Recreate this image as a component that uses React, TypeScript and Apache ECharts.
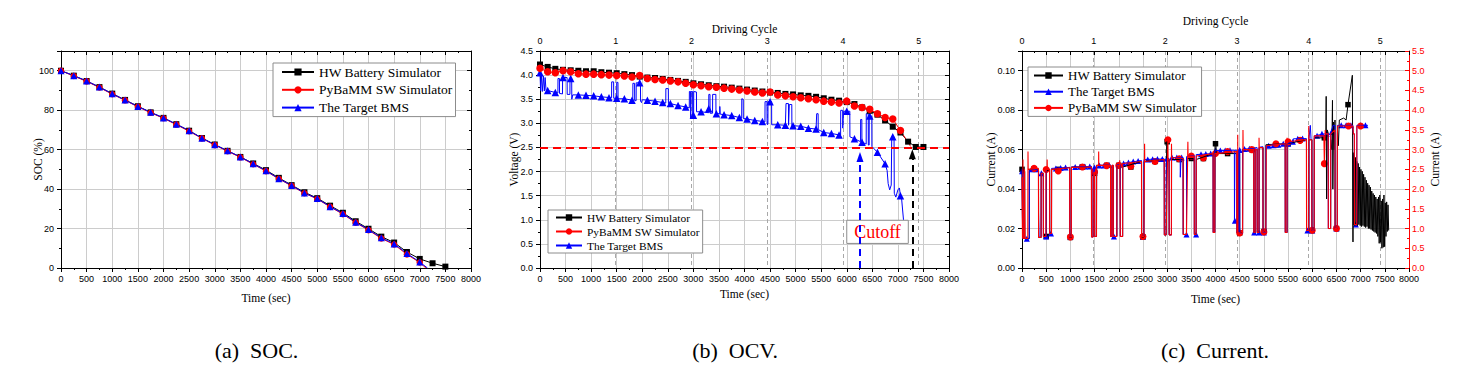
import React, { useEffect, useRef } from "react";
import * as echarts from "echarts";

// ---------- names ----------
const HW = "HW Battery Simulator";
const PY = "PyBaMM SW Simulator";
const BMS = "The Target BMS";

// ---------- tick labels / ranges ----------
const TIME_RANGE = [0, 8000, 500];
const CYCLE_MAX = 5.4;
const SOC_RANGE = [0, 110, 20];
const OCV_RANGE = [0, 4.5, 0.5];
const CUR_RANGE = [0, 0.11, 0.02];
const CUR_RIGHT_RANGE = [0, 5.5, 0.5];
const CAPTIONS = ["(a)  SOC.", "(b)  OCV.", "(c)  Current."];

// ---------- (a) SOC ----------
const socHW = [[0,100],[250,97.5],[500,94.8],[750,91.7],[1000,88.4],[1250,85.2],[1500,82],[1750,78.9],[2000,76.1],[2250,72.9],[2500,69.6],[2750,65.9],[3000,62.6],[3250,59.4],[3500,56.3],[3750,53],[4000,49.6],[4250,45.7],[4500,42],[4750,38.4],[5000,35.4],[5250,31.6],[5500,28],[5750,23.7],[6000,19.9],[6250,15.9],[6500,12.9],[6750,8.1],[7000,4.6],[7250,2.4],[7500,0.7]];
const socPy = [[0,100],[250,97.3],[500,94.6],[750,91.5],[1000,88.1],[1250,85],[1500,81.7],[1750,78.7],[2000,75.9],[2250,72.7],[2500,69.3],[2750,65.7],[3000,62.3],[3250,59.2],[3500,56.1],[3750,52.6],[4000,49.1],[4250,45.2],[4500,41.6],[4750,37.9],[5000,35],[5250,31],[5500,27.3],[5750,23],[6000,19.2],[6250,15],[6500,11.9],[6750,6.9],[7000,2.8],[7120,0]];
const socBms = [[0,100],[250,97.5],[500,94.8],[750,91.7],[1000,88.3],[1250,85.1],[1500,81.9],[1750,78.9],[2000,76.1],[2250,72.9],[2500,69.6],[2750,65.8],[3000,62.5],[3250,59.4],[3500,56.3],[3750,52.8],[4000,49.3],[4250,45.3],[4500,41.8],[4750,38],[5000,35.2],[5250,31.1],[5500,27.6],[5750,23.2],[6000,19.5],[6250,15.3],[6500,12.2],[6750,7.4],[7000,3],[7150,0]];

// ---------- (b) OCV ----------
const ocvHW = [[0,4.22],[150,4.17],[300,4.13],[450,4.11],[600,4.10],[750,4.09],[900,4.08],[1050,4.08],[1200,4.06],[1350,4.05],[1500,4.04],[1650,4.02],[1800,4.00],[1950,3.97],[2100,3.95],[2250,3.94],[2400,3.92],[2550,3.90],[2700,3.88],[2850,3.86],[3000,3.83],[3150,3.81],[3300,3.79],[3450,3.77],[3600,3.76],[3750,3.74],[3900,3.72],[4050,3.70],[4200,3.68],[4350,3.66],[4500,3.64],[4650,3.63],[4800,3.61],[4950,3.60],[5100,3.58],[5250,3.57],[5400,3.55],[5550,3.52],[5700,3.49],[5850,3.47],[6000,3.44],[6150,3.40],[6300,3.33],[6450,3.26],[6600,3.18],[6750,3.06],[6900,2.93],[7050,2.81],[7200,2.62],[7350,2.51],[7500,2.51]];
const ocvPy = [[0,4.14],[150,4.07],[300,4.05],[450,4.09],[600,4.07],[750,4.03],[900,4.02],[1050,4.02],[1200,4.01],[1350,4.00],[1500,3.99],[1650,3.98],[1800,3.96],[1950,3.99],[2100,3.93],[2250,3.91],[2400,3.90],[2550,3.88],[2700,3.86],[2850,3.83],[3000,3.80],[3150,3.78],[3300,3.76],[3450,3.75],[3600,3.73],[3750,3.71],[3900,3.69],[4050,3.67],[4200,3.65],[4350,3.63],[4500,3.65],[4650,3.59],[4800,3.57],[4950,3.55],[5100,3.53],[5250,3.51],[5400,3.49],[5550,3.46],[5700,3.44],[5850,3.42],[6000,3.46],[6150,3.36],[6300,3.33],[6450,3.29],[6600,3.20],[6750,3.12],[6900,3.09],[7050,2.85],[7250,2.52]];
const ocvBmsLine = [[0,4.05],[12,3.68],[25,4.03],[45,3.66],[65,3.98],[85,3.67],[100,3.95],[118,3.68],[150,3.68],
  [300,3.64],[350,3.63],[352,3.93],[380,3.93],[382,3.62],[440,3.61],[442,3.95],[530,3.95],[532,3.60],[585,3.60],[587,3.93],[620,3.92],[622,3.50],[640,3.59],
  [750,3.59],[900,3.58],[1050,3.57],[1200,3.55],[1400,3.53],[1402,3.86],[1440,3.86],[1442,3.52],[1500,3.52],[1502,3.85],[1525,3.85],[1527,3.51],
  [1650,3.51],[1800,3.48],[1815,3.48],[1817,3.83],[1850,3.83],[1852,3.47],[1880,3.47],[1882,3.84],[1965,3.84],[1967,3.46],[1985,3.43],[2000,3.49],
  [2100,3.48],[2250,3.46],[2400,3.43],[2460,3.42],[2462,3.72],[2510,3.72],[2512,3.41],[2550,3.41],[2700,3.37],[2850,3.34],
  [2920,3.32],[2922,3.66],[2945,3.66],[2947,3.10],[2955,3.10],[2957,3.66],[2985,3.66],[2987,3.17],[3005,3.17],[3007,3.66],[3060,3.65],[3062,3.24],
  [3150,3.24],[3298,3.22],[3300,3.30],[3302,3.60],[3325,3.60],[3327,3.21],[3375,3.21],[3377,3.60],[3440,3.60],[3442,3.20],[3515,3.20],[3517,3.35],[3525,3.19],
  [3600,3.18],[3750,3.16],[3900,3.12],[3945,3.11],[3947,3.51],[3975,3.50],[3977,3.10],[4050,3.09],[4200,3.06],[4350,3.04],
  [4400,3.03],[4402,3.45],[4440,3.45],[4442,2.98],[4458,2.98],[4460,3.45],[4530,3.45],[4532,2.97],
  [4650,2.97],[4800,2.96],[4810,2.96],[4812,3.41],[4860,3.41],[4862,2.96],[4875,2.96],[4877,3.39],[4925,3.39],[4927,2.95],
  [4950,2.95],[5100,2.94],[5250,2.90],[5400,2.88],[5410,2.88],[5412,3.20],[5440,3.20],[5442,2.87],[5550,2.81],[5700,2.79],[5850,2.76],
  [5880,2.76],[5882,3.27],[5920,3.27],[5922,2.90],[5935,2.90],[5937,3.25],[6060,3.25],[6062,2.72],
  [6150,2.68],[6270,2.62],[6272,3.08],[6295,3.08],[6297,2.61],[6380,2.57],[6382,3.20],[6420,3.20],[6422,2.55],[6438,2.55],[6440,3.15],[6490,3.15],[6492,2.52],
  [6600,2.40],[6750,2.16],[6790,2.02],[6810,1.75],[6840,1.62],[6870,1.72],[6878,1.72],[6880,2.72],[6925,2.72],[6930,1.55],[6960,1.47],[7000,1.62],[7030,1.66],[7050,1.50],[7070,1.47],[7110,1.00]];
const ocvBmsMarks = [[0,4.05],[150,3.68],[300,3.64],[450,3.95],[600,3.93],[750,3.59],[900,3.58],[1050,3.57],[1200,3.55],[1350,3.53],[1500,3.52],[1650,3.51],[1800,3.48],[1950,3.84],[2100,3.48],[2250,3.46],[2400,3.43],[2550,3.41],[2700,3.37],[2850,3.34],[3000,3.17],[3150,3.24],[3300,3.30],[3450,3.20],[3600,3.18],[3750,3.16],[3900,3.12],[4050,3.09],[4200,3.06],[4350,3.04],[4500,3.45],[4650,2.97],[4800,2.96],[4950,2.95],[5100,2.94],[5250,2.90],[5400,2.88],[5550,2.81],[5700,2.79],[5850,2.76],[6000,3.25],[6150,2.68],[6300,2.61],[6450,3.15],[6600,2.40],[6750,2.16],[6900,2.72],[7050,1.50]];
const CUTOFF_V = 2.5;
const bmsCutArrow = [[6259, 0], [6259, 2.30]];
const hwCutArrow = [[7283, 0], [7283, 2.36]];
const cutoffBox = [[6000, 0.51], [7204, 0.99]];

// ---------- (c) Current ----------
const curHWLine = [[0,0.050],[12,0.050],[14,0.015],[40,0.015],[42,0.049],[57,0.049],[59,0.015],[150,0.015],[152,0.050],[342,0.050],[344,0.0155],[395,0.0155],[397,0.048],[442,0.048],[444,0.016],[500,0.016],[502,0.049],[572,0.050],[574,0.0175],[610,0.0175],[612,0.050],
  [987,0.051],[989,0.0155],[1020,0.0155],[1022,0.0512],[1437,0.0512],[1439,0.0158],[1470,0.0158],[1472,0.048],[1502,0.048],[1504,0.016],[1540,0.016],[1542,0.052],[1832,0.052],[1834,0.016],[1860,0.016],[1862,0.052],[1887,0.052],[1889,0.016],[1960,0.016],[1962,0.052],[2032,0.052],[2034,0.016],[2080,0.016],[2082,0.0512],
  [2472,0.054],[2474,0.0157],[2520,0.0157],[2522,0.054],[2942,0.055],[2944,0.0168],[2980,0.0168],[2990,0.064],[3005,0.064],[3010,0.055],[3042,0.055],[3044,0.0168],[3090,0.0168],[3092,0.055],[3332,0.055],[3334,0.017],[3400,0.017],[3402,0.0555],[3562,0.0555],[3564,0.017],[3600,0.017],[3602,0.055],
  [3952,0.058],[3954,0.018],[3985,0.018],[3990,0.063],[4010,0.063],[4015,0.058],[4442,0.058],[4444,0.018],[4470,0.018],[4472,0.058],[4500,0.058],[4502,0.0178],[4560,0.0178],[4562,0.060],[4792,0.060],[4794,0.018],[4820,0.018],[4822,0.060],[4862,0.060],[4864,0.018],[4900,0.018],[4902,0.061],[4982,0.061],[4984,0.0185],[5040,0.0185],[5042,0.0625],
  [5442,0.063],[5444,0.018],[5480,0.018],[5482,0.063],[5882,0.065],[5884,0.019],[5930,0.019],[5932,0.065],[5992,0.065],[5994,0.019],[6040,0.019],[6042,0.066],[6280,0.066],[6288,0.087],[6296,0.035],[6310,0.070],[6334,0.068],[6336,0.020],[6380,0.020],[6382,0.065],[6405,0.060],[6418,0.085],[6426,0.040],[6440,0.074],[6455,0.060],[6470,0.075],[6474,0.020],[6520,0.020],[6522,0.070],[6540,0.062],[6560,0.075],[6650,0.076],[6700,0.075],[6739,0.0828],[6829,0.0977],
  [6842,0.0132],[6845,0.0585],[6852,0.022],[6866,0.0575],[6880,0.0215],[6894,0.056],[6908,0.022],[6922,0.054],[6936,0.0215],[6950,0.053],[6964,0.022],[6978,0.0512],[6992,0.0215],[7006,0.050],[7020,0.021],[7034,0.049],[7048,0.0215],[7062,0.0475],[7076,0.021],[7090,0.046],[7104,0.0205],[7118,0.0445],[7132,0.021],[7146,0.043],[7160,0.020],[7174,0.042],[7188,0.020],[7202,0.041],[7216,0.0195],[7230,0.039],[7244,0.019],[7258,0.0378],[7272,0.0185],[7286,0.037],[7300,0.018],[7314,0.036],[7328,0.0175],[7342,0.035],[7356,0.016],[7370,0.036],[7384,0.0125],[7398,0.037],[7412,0.013],[7426,0.034],[7440,0.010],[7454,0.035],[7468,0.0105],[7482,0.037],[7496,0.0108],[7510,0.033],[7524,0.016],[7538,0.0335],[7552,0.0185],[7566,0.032],[7580,0.019]];
const curHWMarks = [[0,0.050],[250,0.050],[500,0.016],[750,0.050],[1000,0.0155],[1250,0.0512],[1500,0.048],[1750,0.052],[2000,0.052],[2250,0.0512],[2500,0.0157],[2750,0.054],[3000,0.064],[3250,0.055],[3500,0.0555],[3750,0.0555],[4000,0.063],[4250,0.058],[4500,0.0178],[4750,0.060],[5000,0.0185],[5250,0.0625],[5500,0.063],[5750,0.065],[6000,0.019],[6250,0.066],[6500,0.020],[6739,0.0828]];
const curBmsLine = [[0,0.049],[10,0.049],[12,0.015],[40,0.015],[42,0.048],[55,0.048],[57,0.0148],[150,0.0148],[152,0.0495],[330,0.0502],[340,0.0495],[342,0.028],[350,0.028],[352,0.0155],[395,0.0155],[397,0.048],[440,0.048],[442,0.016],[500,0.016],[502,0.050],[570,0.050],[572,0.0175],[610,0.0175],[612,0.0505],
  [985,0.051],[987,0.0158],[1020,0.0158],[1022,0.0512],[1435,0.0515],[1437,0.0158],[1470,0.0158],[1472,0.051],[1500,0.051],[1502,0.016],[1540,0.016],[1542,0.052],[1830,0.0522],[1832,0.016],[1860,0.016],[1862,0.052],[1885,0.052],[1887,0.016],[1960,0.016],[1962,0.0523],[2030,0.0525],[2032,0.016],[2080,0.016],[2082,0.053],
  [2470,0.0545],[2472,0.016],[2520,0.016],[2522,0.055],[2940,0.0553],[2942,0.0168],[2980,0.0168],[2982,0.0553],[3040,0.0555],[3042,0.0168],[3090,0.0168],[3092,0.056],[3270,0.056],[3272,0.046],[3285,0.046],[3287,0.056],[3330,0.056],[3332,0.017],[3400,0.017],[3402,0.0565],[3560,0.057],[3562,0.017],[3600,0.017],[3602,0.0575],
  [3950,0.058],[3952,0.018],[3985,0.018],[3987,0.0595],[4390,0.0597],[4392,0.024],[4400,0.024],[4402,0.0597],[4440,0.0597],[4442,0.018],[4470,0.018],[4472,0.0598],[4500,0.0598],[4502,0.0175],[4560,0.0175],[4562,0.0603],[4790,0.0605],[4792,0.018],[4820,0.018],[4822,0.061],[4860,0.061],[4862,0.018],[4900,0.018],[4902,0.0612],[4980,0.0615],[4982,0.018],[5040,0.018],[5042,0.062],
  [5440,0.063],[5442,0.018],[5480,0.018],[5482,0.063],[5600,0.064],[5610,0.0655],[5880,0.0656],[5882,0.019],[5930,0.019],[5932,0.0655],[5960,0.0723],[5975,0.0655],[5990,0.065],[5992,0.019],[6040,0.019],[6042,0.067],[6250,0.068],[6330,0.068],[6332,0.020],[6380,0.020],[6382,0.0685],[6430,0.0723],[6470,0.0723],[6472,0.020],[6520,0.020],[6522,0.0723],[6840,0.0723],[6850,0.068],[6870,0.068],[6872,0.022],[6920,0.022],[6922,0.0723],[7150,0.0723]];
const curBmsMarks = [[0,0.049],[100,0.0148],[200,0.050],[300,0.050],[400,0.048],[500,0.016],[600,0.0175],[700,0.0505],[800,0.0507],[900,0.051],[1000,0.0158],[1100,0.0512],[1200,0.0513],[1300,0.0514],[1400,0.0515],[1500,0.051],[1600,0.052],[1700,0.052],[1800,0.0522],[1900,0.016],[2000,0.0523],[2100,0.053],[2200,0.0535],[2300,0.054],[2400,0.0543],[2500,0.016],[2600,0.055],[2700,0.0551],[2800,0.0552],[2900,0.0553],[3000,0.0555],[3100,0.056],[3200,0.056],[3300,0.056],[3400,0.017],[3500,0.0567],[3600,0.017],[3700,0.0577],[3800,0.0578],[3900,0.058],[4000,0.0595],[4100,0.0596],[4200,0.0596],[4300,0.0597],[4400,0.024],[4500,0.0598],[4600,0.0603],[4700,0.0604],[4800,0.018],[4900,0.018],[5000,0.018],[5100,0.062],[5200,0.0622],[5300,0.0625],[5400,0.063],[5500,0.063],[5600,0.064],[5700,0.0655],[5800,0.0656],[5900,0.019],[6000,0.019],[6100,0.067],[6200,0.068],[6300,0.068],[6400,0.069],[6500,0.020],[6600,0.0723],[6700,0.0723],[6800,0.0723],[6900,0.022],[7000,0.0723],[7100,0.0723]];
const curPyLine = [[0,0.046],[8,0.046],[10,0.015],[18,0.015],[20,0.055],[24,0.015],[50,0.015],[52,0.050],[60,0.050],[62,0.015],[120,0.015],[124,0.059],[128,0.050],[340,0.0505],[342,0.0155],[395,0.0155],[397,0.048],[440,0.048],[442,0.016],[495,0.016],[497,0.050],[518,0.050],[520,0.055],[524,0.050],[570,0.050],[572,0.0175],[610,0.0175],[612,0.050],
  [985,0.0508],[987,0.0157],[1020,0.0157],[1022,0.051],[1435,0.0512],[1437,0.0157],[1470,0.0157],[1472,0.048],[1500,0.0487],[1502,0.016],[1540,0.016],[1542,0.052],[1583,0.052],[1585,0.059],[1588,0.052],[1830,0.052],[1832,0.016],[1860,0.016],[1862,0.052],[1885,0.052],[1887,0.016],[1960,0.016],[1962,0.052],[2018,0.052],[2020,0.0546],[2024,0.052],[2030,0.052],[2032,0.016],[2080,0.016],[2082,0.053],
  [2470,0.054],[2472,0.016],[2520,0.016],[2534,0.063],[2538,0.054],[2940,0.055],[2942,0.0168],[2980,0.0168],[3016,0.065],[3020,0.055],[3040,0.055],[3042,0.0168],[3088,0.0168],[3090,0.063],[3094,0.056],[3330,0.0555],[3332,0.017],[3400,0.017],[3429,0.064],[3433,0.0565],[3560,0.0568],[3562,0.017],[3600,0.017],[3602,0.0568],
  [3950,0.058],[3952,0.018],[3985,0.018],[3987,0.058],[4440,0.059],[4442,0.018],[4458,0.018],[4460,0.0675],[4464,0.018],[4500,0.0177],[4560,0.0177],[4568,0.070],[4572,0.060],[4790,0.060],[4792,0.018],[4820,0.018],[4822,0.060],[4860,0.060],[4862,0.018],[4898,0.018],[4900,0.066],[4904,0.061],[4980,0.061],[4982,0.0183],[5040,0.0183],[5048,0.0606],[5052,0.062],
  [5440,0.063],[5442,0.018],[5478,0.018],[5480,0.066],[5484,0.064],[5880,0.065],[5882,0.019],[5926,0.019],[5928,0.072],[5932,0.065],[5990,0.065],[5992,0.0191],[6040,0.0191],[6042,0.067],[6240,0.067],[6250,0.0529],[6262,0.0529],[6268,0.070],[6272,0.068],[6330,0.068],[6332,0.020],[6380,0.020],[6382,0.068],[6470,0.070],[6472,0.020],[6518,0.020],[6520,0.068],[6526,0.072],[6840,0.072],[6850,0.068],[6870,0.068],[6872,0.022],[6920,0.022],[6922,0.072],[7050,0.072]];
const curPyMarks = [[250,0.0505],[500,0.0499],[750,0.0492],[1000,0.0157],[1250,0.0512],[1500,0.0487],[1750,0.0519],[2000,0.052],[2250,0.0516],[2500,0.016],[2750,0.054],[3016,0.065],[3250,0.0554],[3500,0.0568],[3750,0.0558],[4000,0.058],[4250,0.059],[4500,0.0177],[4750,0.060],[5000,0.0183],[5250,0.063],[5500,0.064],[5750,0.0647],[6000,0.0191],[6250,0.0529],[6500,0.020],[6750,0.072],[7000,0.072]];

// ---------- style ----------
const SERIF = "'Liberation Serif', 'Times New Roman', serif";
const SANS = "'Liberation Sans', Arial, sans-serif";
const BLACK = "#000000";
const RED = "#ff0000";
const BLUE = "#0000ff";
const GRIDC = "#cccccc";

const nameStyle = { fontFamily: SERIF, fontSize: 11.5, color: "#000" };
const labelStyle = { fontFamily: SANS, fontSize: 9, color: "#000" };

function timeAxis(grid: number, mirror: boolean, nameGap: number) {
  return {
    type: "value", gridIndex: grid, position: mirror ? "top" : "bottom",
    min: TIME_RANGE[0], max: TIME_RANGE[1], interval: TIME_RANGE[2],
    axisLine: { show: true, onZero: false, lineStyle: { color: BLACK, width: 1 } },
    axisTick: { show: true, inside: mirror, length: 4, lineStyle: { color: BLACK } },
    minorTick: { show: true, splitNumber: 2, length: 2, lineStyle: { color: BLACK } },
    axisLabel: { show: !mirror, interval: 0, margin: 6, ...labelStyle, formatter: (v: number) => String(Math.round(v)) },
    splitLine: { show: !mirror, lineStyle: { color: GRIDC, width: 1 } },
    minorSplitLine: { show: false },
    name: mirror ? "" : "Time (sec)", nameLocation: "middle", nameGap,
    nameTextStyle: nameStyle, nameMoveOverlap: false,
  };
}
function cycleAxis(grid: number, nameGap: number) {
  return {
    type: "value", gridIndex: grid, position: "top",
    min: 0, max: CYCLE_MAX, interval: 1,
    axisLine: { show: true, onZero: false, lineStyle: { color: BLACK, width: 1 } },
    axisTick: { show: false }, minorTick: { show: false },
    axisLabel: { show: true, showMaxLabel: false, margin: 6, ...labelStyle, formatter: (v: number) => String(Math.round(v)) },
    splitLine: { show: true, lineStyle: { color: "#a8a8a8", width: 1, type: [4, 3] } },
    name: "Driving Cycle", nameLocation: "middle", nameGap,
    nameTextStyle: nameStyle, nameMoveOverlap: false,
  };
}
function valueAxis(grid: number, range: number[], digits: number, name: string, nameGap: number, right: boolean, color = BLACK, labelColor = "#000", showLabel = true, showSplit = true) {
  return {
    type: "value", gridIndex: grid, position: right ? "right" : "left",
    min: range[0], max: range[1], interval: range[2],
    axisLine: { show: true, onZero: false, lineStyle: { color, width: 1 } },
    axisTick: { show: true, inside: right, length: 4, lineStyle: { color } },
    minorTick: { show: true, splitNumber: 2, length: 2, lineStyle: { color } },
    axisLabel: {
      show: showLabel, showMaxLabel: Math.abs((range[1] / range[2]) - Math.round(range[1] / range[2])) < 1e-6,
      margin: right ? 3 : 7, ...labelStyle, color: labelColor,
      formatter: (v: number) => v.toFixed(digits),
    },
    splitLine: { show: showSplit, lineStyle: { color: GRIDC, width: 1 } },
    minorSplitLine: { show: false },
    name, nameLocation: "middle", nameGap, nameRotate: 90,
    nameTextStyle: nameStyle, nameMoveOverlap: false,
  };
}
function legendCfg(left: number, top: number, data: string[], fontSize: number, itemWidth: number, itemHeight: number, itemGap: number, padding: number[]) {
  return {
    show: true, orient: "vertical", left, top, data, itemWidth, itemHeight, itemGap, padding,
    backgroundColor: "#ffffff", borderColor: "#8c8c8c", borderWidth: 1, borderRadius: 0,
    selectedMode: false, textStyle: { fontFamily: SERIF, fontSize, color: "#000" },
  };
}
function bareLastPoint(data: number[][]) {
  return data.map((d, i) => (i === data.length - 1 ? { value: d, symbol: "none" } : d));
}
function lineSeries(name: string, x: number, y: number, data: any[], color: string, symbol: string, size: number, show: boolean, width = 1) {
  return {
    type: "line", name, xAxisIndex: x, yAxisIndex: y, data, symbol, symbolSize: size,
    showSymbol: show, showAllSymbol: true, lineStyle: { color, width }, itemStyle: { color },
    emphasis: { disabled: true }, silent: true, clip: true,
  };
}
function markSeries(name: string, x: number, y: number, data: number[][], color: string, symbol: string, size: number) {
  return {
    type: "scatter", name, xAxisIndex: x, yAxisIndex: y, data, symbol, symbolSize: size,
    itemStyle: { color, opacity: 1 }, emphasis: { disabled: true }, silent: true,
  };
}

const option: any = {
  animation: false,
  backgroundColor: "#ffffff",
  grid: [
    { left: 61, top: 51, width: 410, height: 217, outerBoundsMode: "none", containLabel: false },
    { left: 540, top: 51, width: 409, height: 217, outerBoundsMode: "none", containLabel: false },
    { left: 1022, top: 51, width: 387, height: 217, outerBoundsMode: "none", containLabel: false },
  ],
  xAxis: [
    timeAxis(0, false, 24), timeAxis(0, true, 0),
    timeAxis(1, false, 20), timeAxis(1, true, 0), cycleAxis(1, 16),
    timeAxis(2, false, 25), timeAxis(2, true, 0), cycleAxis(2, 24),
  ],
  yAxis: [
    valueAxis(0, SOC_RANGE, 0, "SOC (%)", 17, false),
    valueAxis(0, SOC_RANGE, 0, "", 0, true, BLACK, "#000", false, false),
    valueAxis(1, OCV_RANGE, 1, "Voltage (V)", 20, false),
    valueAxis(1, OCV_RANGE, 1, "", 0, true, BLACK, "#000", false, false),
    valueAxis(2, CUR_RANGE, 2, "Current (A)", 25, false),
    valueAxis(2, CUR_RIGHT_RANGE, 1, "Current (A)", 20, true, RED, RED, true, false),
  ],
  legend: [
    legendCfg(273, 63, [HW, PY, BMS], 13.5, 32, 9, 3.8, [2, 3, 2, 8]),
    legendCfg(548, 210, [HW, PY, BMS], 11.4, 26, 8, 3, [2, 3, 2, 7]),
    legendCfg(1028, 67, [HW, BMS, PY], 13, 29, 8, 3.2, [2, 5, 2, 5]),
  ],
  series: [
    // (a)
    lineSeries(HW, 0, 0, socHW, BLACK, "rect", 6, true),
    lineSeries(PY, 0, 0, bareLastPoint(socPy), RED, "circle", 6.5, true),
    lineSeries(BMS, 0, 0, bareLastPoint(socBms), BLUE, "triangle", 7, true),
    // (b)
    lineSeries(HW, 2, 2, ocvHW, BLACK, "rect", 6, true),
    lineSeries(PY, 2, 2, bareLastPoint(ocvPy), RED, "circle", 7.5, true),
    lineSeries(BMS, 2, 2, ocvBmsLine, BLUE, "triangle", 8, false),
    markSeries(BMS, 2, 2, ocvBmsMarks, BLUE, "triangle", 7.5),
    {
      type: "line", name: "cutoff-lines", xAxisIndex: 2, yAxisIndex: 2, data: [], silent: true, z: 3,
      markLine: {
        silent: true, symbol: ["none", "none"], label: { show: false }, emphasis: { disabled: true },
        data: [
          { yAxis: CUTOFF_V, lineStyle: { color: RED, width: 2, type: [8, 5] } },
          [
            { coord: bmsCutArrow[0], symbol: "none", lineStyle: { color: BLUE, width: 2, type: [7, 5] } },
            { coord: bmsCutArrow[1], symbol: "triangle", symbolSize: [7, 10] },
          ],
          [
            { coord: hwCutArrow[0], symbol: "none", lineStyle: { color: BLACK, width: 2, type: [7, 5] } },
            { coord: hwCutArrow[1], symbol: "triangle", symbolSize: [7, 10] },
          ],
        ],
      },
    },
    {
      type: "line", name: "cutoff-box", xAxisIndex: 2, yAxisIndex: 2, data: [], silent: true, z: 6,
      markArea: {
        silent: true, emphasis: { disabled: true },
        itemStyle: { color: "#ffffff", borderColor: "#8c8c8c", borderWidth: 1, opacity: 1 },
        label: { show: true, position: "inside", color: RED, fontFamily: SERIF, fontSize: 18 },
        data: [[{ name: "Cutoff", coord: cutoffBox[0] }, { coord: cutoffBox[1] }]],
      },
    },
    // (c)
    lineSeries(HW, 5, 4, curHWLine, BLACK, "rect", 6, false, 1),
    markSeries(HW, 5, 4, curHWMarks, BLACK, "rect", 5.5),
    lineSeries(BMS, 5, 4, curBmsLine, BLUE, "triangle", 6, false, 1),
    markSeries(BMS, 5, 4, curBmsMarks, BLUE, "triangle", 6),
    lineSeries(PY, 5, 4, curPyLine, RED, "circle", 7, false, 1.1),
    markSeries(PY, 5, 4, curPyMarks, RED, "circle", 7),
  ],
  graphic: [
    { type: "text", x: 256.5, y: 350, silent: true, style: { text: CAPTIONS[0], fontFamily: SERIF, fontSize: 22, fill: "#000", align: "center", verticalAlign: "middle" } },
    { type: "text", x: 735, y: 350, silent: true, style: { text: CAPTIONS[1], fontFamily: SERIF, fontSize: 22, fill: "#000", align: "center", verticalAlign: "middle" } },
    { type: "text", x: 1215, y: 350, silent: true, style: { text: CAPTIONS[2], fontFamily: SERIF, fontSize: 22, fill: "#000", align: "center", verticalAlign: "middle" } },
  ],
};

export default function App() {
  const ref = useRef<HTMLDivElement>(null);
  useEffect(() => {
    if (!ref.current) return;
    const chart = echarts.init(ref.current, undefined, { renderer: "svg" });
    chart.setOption(option);
    return () => chart.dispose();
  }, []);
  return (
    <div
      ref={ref}
      style={{ position: "absolute", left: 0, top: 0, width: 1471, height: 382, background: "#fff" }}
    />
  );
}
